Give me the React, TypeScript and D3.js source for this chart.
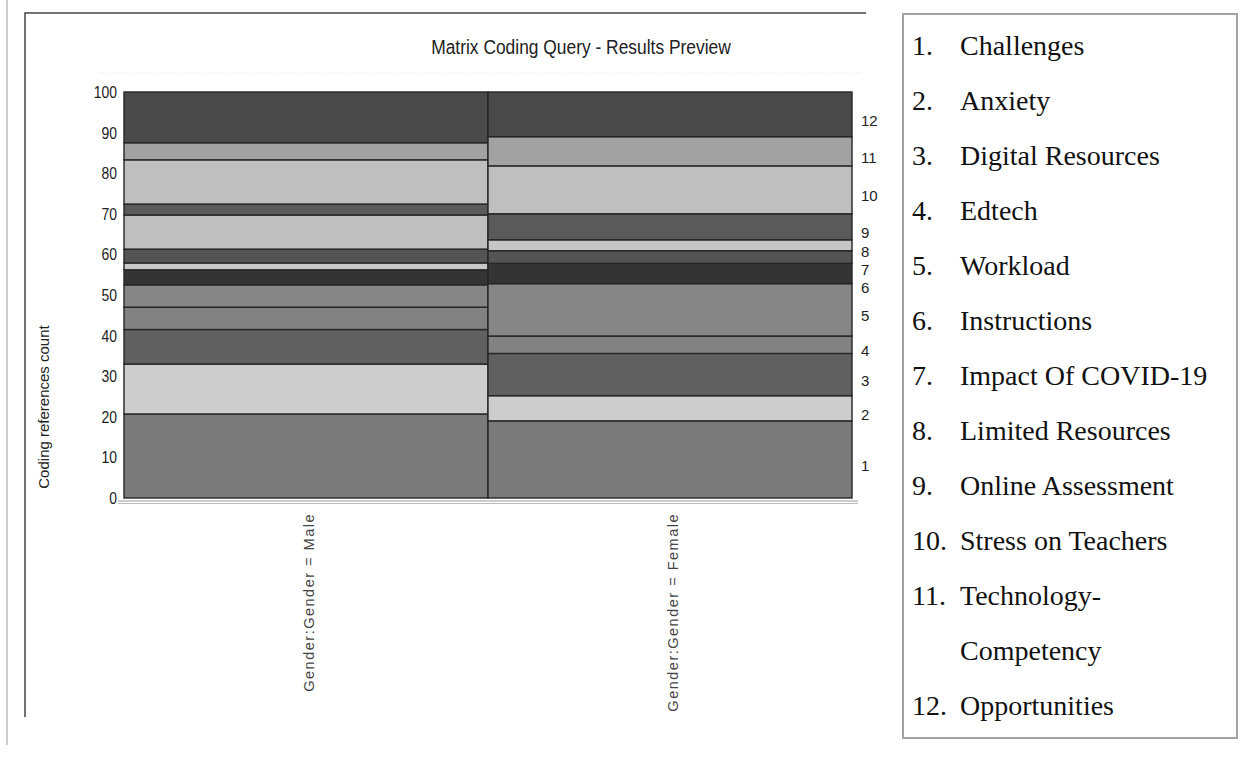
import { useEffect, useRef } from 'react'
import * as d3 from 'd3'

// Legend topics, numbered 1..12 from the bottom of each stack
const topics = [
  'Challenges',
  'Anxiety',
  'Digital Resources',
  'Edtech',
  'Workload',
  'Instructions',
  'Impact Of COVID-19',
  'Limited Resources',
  'Online Assessment',
  'Stress on Teachers',
  'Technology-Competency',
  'Opportunities'
]

const columns = ['Gender:Gender = Male', 'Gender:Gender = Female']

// grey fill used by each topic
const topicShades = [
  '#7b7b7b', '#cdcdcd', '#606060', '#828282', '#868686', '#343434',
  '#545454', '#c6c6c6', '#5a5a5a', '#bfbfbf', '#a2a2a2', '#4a4a4a'
]

// bands, bottom to top (with the topic whose shade they carry)
const maleValues = [20.7, 12.3, 8.5, 5.5, 5.5, 3.7, 1.7, 3.4, 8.4, 2.7, 10.9, 4.2, 12.5]
const maleShade = [1, 2, 3, 4, 5, 6, 8, 7, 10, 9, 10, 11, 12]
const femaleValues = [19.0, 6.2, 10.4, 4.3, 12.9, 5.0, 3.1, 2.7, 6.4, 11.8, 7.2, 11.0]
const femaleShade = [1, 2, 3, 4, 5, 6, 7, 8, 9, 10, 11, 12]

const yTicks = [0, 10, 20, 30, 40, 50, 60, 70, 80, 90, 100]

const W = 1253
const H = 760
const SANS = 'Liberation Sans, Arial, sans-serif'

const App: React.FC = () => {
  const svgRef = useRef<SVGSVGElement>(null)

  useEffect(() => {
    if (!svgRef.current) return
    const svg = d3.select(svgRef.current)
    svg.selectAll('*').remove()

    const x = d3.scaleBand().domain(columns).range([124, 852]).padding(0)
    const y = d3.scaleLinear().domain([0, 100]).range([498, 92])

    // outer frames
    svg.append('line').attr('x1', 7).attr('x2', 7).attr('y1', 0).attr('y2', 745)
      .attr('stroke', '#bbb').attr('stroke-width', 1.5)
    svg.append('path').attr('d', 'M25,717 V13 H866')
      .attr('fill', 'none').attr('stroke', '#444').attr('stroke-width', 1.5)

    // faint dotted guide above plot
    svg.append('line').attr('x1', 100).attr('x2', 860).attr('y1', 73).attr('y2', 73)
      .attr('stroke', '#e2e2e2').attr('stroke-dasharray', '1,2')

    // title (condensed look)
    svg.append('text')
      .attr('transform', 'translate(581,54) scale(0.87,1)')
      .attr('text-anchor', 'middle')
      .attr('font-family', SANS)
      .attr('font-size', '20px')
      .attr('fill', '#222')
      .text('Matrix Coding Query - Results Preview')

    const stacks = [
      { col: columns[0], values: maleValues, shade: maleShade },
      { col: columns[1], values: femaleValues, shade: femaleShade }
    ]

    stacks.forEach(s => {
      const tops = Array.from(d3.cumsum(s.values))
      const segs = s.values.map((v, i) => ({ y0: tops[i] - v, y1: tops[i], c: s.shade[i] }))
      svg.append('g')
        .selectAll('rect')
        .data(segs)
        .enter()
        .append('rect')
        .attr('x', x(s.col) || 0)
        .attr('width', x.bandwidth())
        .attr('y', d => y(d.y1))
        .attr('height', d => y(d.y0) - y(d.y1))
        .attr('fill', d => topicShades[d.c - 1])
        .attr('stroke', '#262626')
        .attr('stroke-width', 1.4)
    })

    // baseline (double grey rule)
    svg.append('line').attr('x1', 118).attr('x2', 858).attr('y1', 501).attr('y2', 501)
      .attr('stroke', '#999').attr('stroke-width', 1.2)
    svg.append('line').attr('x1', 118).attr('x2', 858).attr('y1', 503.5).attr('y2', 503.5)
      .attr('stroke', '#bbb').attr('stroke-width', 1)

    // y tick labels
    svg.append('g')
      .selectAll('text')
      .data(yTicks)
      .enter()
      .append('text')
      .attr('transform', d => `translate(117,${y(d)}) scale(0.82,1)`)
      .attr('text-anchor', 'end')
      .attr('dominant-baseline', 'central')
      .attr('font-family', SANS)
      .attr('font-size', '17px')
      .attr('fill', '#222')
      .text(d => d)

    svg.append('text')
      .attr('transform', 'translate(49,407) rotate(-90)')
      .attr('text-anchor', 'middle')
      .attr('font-family', SANS)
      .attr('font-size', '15px')
      .attr('fill', '#222')
      .text('Coding references count')

    // column labels
    columns.forEach(c => {
      const cx = (x(c) || 0) + x.bandwidth() / 2 + 3
      svg.append('text')
        .attr('transform', `translate(${cx},513) rotate(-90)`)
        .attr('text-anchor', 'end')
        .attr('dominant-baseline', 'central')
        .attr('font-family', SANS)
        .attr('font-size', '14.5px')
        .attr('letter-spacing', '1.5px')
        .attr('fill', '#444')
        .text(c)
    })

    // numbers at right of the female stack, spread where bands are thin
    const fTops = Array.from(d3.cumsum(femaleValues))
    const centers = femaleValues.map((v, i) => y(fTops[i] - v / 2))
    const pos = centers.slice()
    for (let i = pos.length - 2; i >= 0; i--) {
      if (pos[i] < pos[i + 1] + 18) pos[i] = pos[i + 1] + 18
    }
    svg.append('g')
      .selectAll('text')
      .data(pos)
      .enter()
      .append('text')
      .attr('x', 861)
      .attr('y', d => d + 6)
      .attr('dominant-baseline', 'central')
      .attr('font-family', SANS)
      .attr('font-size', '15px')
      .attr('fill', '#222')
      .text((_d, i) => femaleShade[i])

    // legend box
    svg.append('rect')
      .attr('x', 903).attr('y', 14).attr('width', 334).attr('height', 724)
      .attr('fill', '#fff').attr('stroke', '#a3a3a3').attr('stroke-width', 2)

    const lines: { num: string; text: string }[] = []
    topics.forEach((t, i) => {
      if (t.length > 20 && t.includes('-')) {
        const k = t.indexOf('-') + 1
        lines.push({ num: `${i + 1}.`, text: t.slice(0, k) })
        lines.push({ num: '', text: t.slice(k) })
      } else {
        lines.push({ num: `${i + 1}.`, text: t })
      }
    })

    const legend = svg.append('g')
      .attr('font-family', 'Liberation Serif, Times New Roman, serif')
      .attr('font-size', '28px')
      .attr('fill', '#111')

    const row = legend.selectAll('g')
      .data(lines)
      .enter()
      .append('g')
      .attr('transform', (_d, i) => `translate(0,${55 + i * 55})`)
    row.append('text').attr('x', 912).text(d => d.num)
    row.append('text').attr('x', 960).text(d => d.text)
  }, [])

  return (
    <div style={{ position: 'absolute', left: 0, top: 0, width: W, height: H, background: '#fff' }}>
      <svg ref={svgRef} width={W} height={H} style={{ display: 'block' }} />
    </div>
  )
}

export default App
